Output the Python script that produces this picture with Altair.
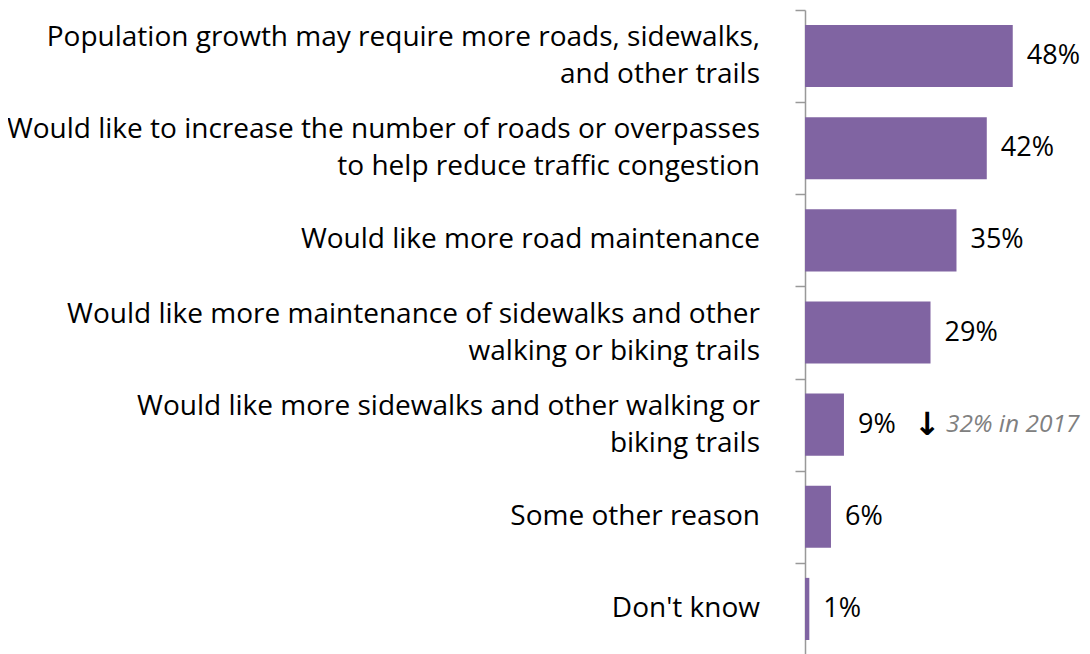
import altair as alt
import pandas as pd

categories = [
    "Population growth may require more roads, sidewalks,|and other trails",
    "Would like to increase the number of roads or overpasses|to help reduce traffic congestion",
    "Would like more road maintenance",
    "Would like more maintenance of sidewalks and other|walking or biking trails",
    "Would like more sidewalks and other walking or|biking trails",
    "Some other reason",
    "Don't know",
]
values = [0.48, 0.42, 0.35, 0.29, 0.09, 0.06, 0.01]
value_labels = ["48%", "42%", "35%", "29%", "9%", "6%", "1%"]

note_category = ["Would like more sidewalks and other walking or|biking trails"]
note_value = [0.09]
note_arrow = ["↓"]
note_text = ["32% in 2017"]

FONT = "Open Sans"
PURPLE = "#8064A2"
FS = 28

df = pd.DataFrame({"cat": categories, "val": values, "lab": value_labels})
df["two"] = df["cat"].str.contains("|", regex=False)
notes = pd.DataFrame({"cat": note_category, "val": note_value,
                      "arrow": note_arrow, "txt": note_text})

y_enc = alt.Y(
    "cat:N",
    sort=categories,
    title=None,
    scale=alt.Scale(paddingInner=0, paddingOuter=0),
    axis=alt.Axis(
        labels=False,
        tickBand="extent",
        tickSize=10,
        tickColor="#999999",
        domainColor="#999999",
        tickWidth=1.5,
        domainWidth=1.5,
    ),
)
y_plain = alt.Y("cat:N", sort=categories)

x_enc = alt.X("val:Q", scale=alt.Scale(domain=[0, 0.64], nice=False, zero=True), axis=None)

bars = alt.Chart(df).mark_bar(color=PURPLE, height=alt.RelativeBandSize(0.674)).encode(
    x=x_enc, y=y_enc
)

cat_one = alt.Chart(df).transform_filter("!datum.two").mark_text(
    align="right", baseline="middle", font=FONT, fontSize=FS, color="#000000"
).encode(x=alt.value(-45), y=y_plain, text="cat:N")

cat_two = alt.Chart(df).transform_filter("datum.two").mark_text(
    align="right", baseline="line-bottom", lineBreak="|", lineHeight=37,
    font=FONT, fontSize=FS, color="#000000"
).encode(x=alt.value(-45), y=y_plain, text="cat:N")

labels = alt.Chart(df).mark_text(
    align="left", baseline="middle", dx=14, font=FONT, fontSize=27, color="#000000"
).encode(x="val:Q", y=y_plain, text="lab:N")

arrow = alt.Chart(notes).mark_text(
    align="left", baseline="middle", dx=70, font="DejaVu Sans", fontSize=32,
    fontWeight="bold", color="#000000"
).encode(x="val:Q", y=y_plain, text="arrow:N")

note = alt.Chart(notes).mark_text(
    align="left", baseline="middle", dx=102, font=FONT, fontSize=24.5,
    fontStyle="italic", color="#808080"
).encode(x="val:Q", y=y_plain, text="txt:N")

chart = (
    alt.layer(bars, cat_one, cat_two, labels, arrow, note)
    .properties(
        width=277,
        height=645,
        padding={"left": 797, "top": 2, "right": 0, "bottom": 0},
        autosize=alt.AutoSizeParams(type="none"),
        background="white",
    )
    .configure_view(stroke=None, strokeWidth=0)
)

chart.save("out.html", embed_options={"renderer": "svg", "actions": False})
